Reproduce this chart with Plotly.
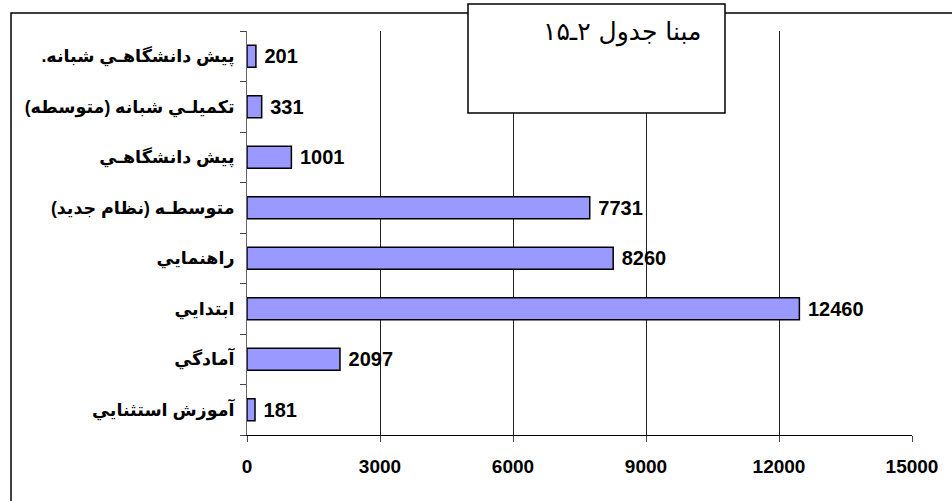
import plotly.graph_objects as go

RLM = "\u200f"
NBSP = "\u00a0"
categories = [
    "آموزش استثنايي",
    "آمادگي",
    "ابتدايي",
    "راهنمايي",
    "متوسطـه (نظام جديد)",
    "پيش دانشگاهـي",
    "تكميلـي شبانه (متوسطه)",
    "پيش دانشگاهـي شبانه.",
]
values = [181, 2097, 12460, 8260, 7731, 1001, 331, 201]
x_ticks = [0, 3000, 6000, 9000, 12000, 15000]
note_text = "مبنا جدول ۲ـ۱۵"

FONT = "Liberation Sans, Arial, DejaVu Sans, sans-serif"

fig = go.Figure(
    go.Bar(
        y=[RLM + c + RLM for c in categories],
        x=values,
        orientation="h",
        marker=dict(color="#9999FF", line=dict(color="black", width=1.5)),
        text=[NBSP + str(v) for v in values],
        textposition="outside",
        cliponaxis=False,
        textfont=dict(family=FONT, size=20, color="black", weight="bold"),
    )
)

fig.update_layout(
    width=952,
    height=501,
    margin=dict(l=247, r=40, t=31, b=66),
    paper_bgcolor="white",
    plot_bgcolor="white",
    bargap=0.56,
    showlegend=False,
    font=dict(family=FONT, color="black"),
)

fig.update_xaxes(
    range=[0, 15000],
    tickvals=x_ticks,
    ticktext=[str(t) for t in x_ticks],
    showgrid=True,
    gridcolor="#222222",
    gridwidth=1,
    showline=True,
    linecolor="black",
    linewidth=1,
    ticks="outside",
    ticklen=6,
    tickcolor="#444444",
    ticklabelstandoff=8,
    tickfont=dict(family=FONT, size=19, color="black", weight="bold"),
    zeroline=False,
    automargin=False,
)

fig.update_yaxes(
    showgrid=False,
    showline=True,
    linecolor="#666666",
    linewidth=1,
    ticks="outside",
    tickson="boundaries",
    ticklen=6,
    tickcolor="#444444",
    ticklabelstandoff=8,
    tickfont=dict(family=FONT, size=17.5, color="black", weight="bold"),
    automargin=False,
)

# outer chart-area frame (extends beyond the right/bottom edges)
fig.add_shape(
    type="rect", xref="paper", yref="paper",
    x0=(11 - 247) / 665, x1=(970 - 247) / 665,
    y0=(435 - 520) / 404, y1=(435 - 13) / 404,
    line=dict(color="black", width=1.5), fillcolor="rgba(0,0,0,0)",
    layer="above",
)

# text box
fig.add_shape(
    type="rect", xref="paper", yref="paper",
    x0=(468 - 247) / 665, x1=(725 - 247) / 665,
    y0=(435 - 113) / 404, y1=(435 - 4) / 404,
    line=dict(color="black", width=1.5), fillcolor="white",
    layer="above",
)
fig.add_annotation(
    xref="paper", yref="paper",
    x=(703 - 247) / 665, y=(435 - 32) / 404,
    xanchor="right", yanchor="middle",
    text=RLM + note_text + RLM, showarrow=False,
    font=dict(family="DejaVu Sans, Liberation Sans, sans-serif", size=25, color="black"),
)

fig.write_html(
    "out.html",
    config={"displayModeBar": False},
    post_script="document.body.style.margin='0';",
)
